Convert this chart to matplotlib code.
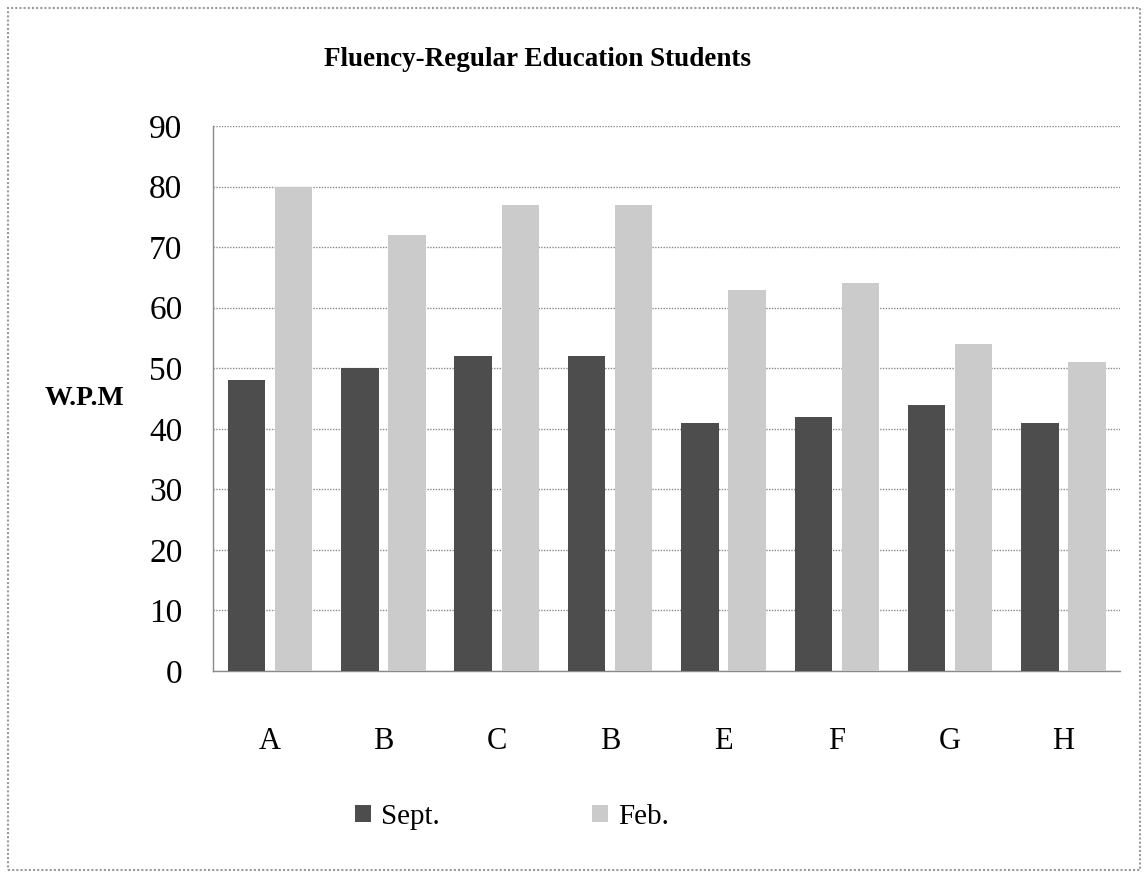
import matplotlib
matplotlib.use("Agg")
import matplotlib.pyplot as plt
import numpy as np
from matplotlib.patches import Rectangle

# Data
STUDENTS = ["A", "B", "C", "B", "E", "F", "G", "H"]
SEPT = [48, 50, 52, 52, 41, 42, 44, 41]
FEB = [80, 72, 77, 77, 63, 64, 54, 51]

SEPT_COLOR = "#4d4d4d"
FEB_COLOR = "#cbcbcb"
GRID_COLOR = "#8a8a8a"

plt.rcParams["font.family"] = ["Liberation Serif", "DejaVu Serif"]

fig = plt.figure(figsize=(11.45, 8.72), dpi=100)
fig.patch.set_facecolor("white")
ax = fig.add_axes([213 / 1145, 1 - 671 / 872, (1120 - 213) / 1145, (671 - 126) / 872])

x = np.arange(len(STUDENTS))
width = 0.33
ax.bar(x - 0.205, SEPT, width, color=SEPT_COLOR, label="Sept.", zorder=3)
ax.bar(x + 0.21, FEB, width, color=FEB_COLOR, label="Feb.", zorder=3)

ax.set_xlim(-0.5, len(STUDENTS) - 0.5)
ax.set_ylim(0, 90)
ax.set_yticks(range(0, 91, 10))
ax.set_xticks(x)
ax.set_xticklabels(STUDENTS)
ax.tick_params(axis="y", length=0, pad=22, labelsize=24)
ax.tick_params(axis="x", length=0, pad=40, labelsize=22)

ax.grid(axis="y", color=GRID_COLOR, linestyle=(0, (1, 1)), linewidth=1.0, zorder=1)
for side in ("top", "right"):
    ax.spines[side].set_visible(False)
for side in ("left", "bottom"):
    ax.spines[side].set_color(GRID_COLOR)
    ax.spines[side].set_linestyle((0, (1, 1)))
    ax.spines[side].set_linewidth(1.0)

ax.set_ylabel("W.P.M", rotation=0, fontsize=20, fontweight="bold",
              ha="center", va="center")
ax.yaxis.set_label_coords(-0.142, 0.5)

fig.text(538 / 1145, 1 - 59 / 872, "Fluency-Regular Education Students",
         fontsize=19.5, fontweight="bold", ha="center", va="center")

leg = fig.legend(loc="center", bbox_to_anchor=(512 / 1145, 1 - 817 / 872),
                 ncol=2, frameon=False, fontsize=21, handlelength=0.55,
                 handleheight=0.55, handletextpad=0.35, columnspacing=5.2)

# outer chart frame
fig.add_artist(Rectangle((8 / 1145, 2 / 872), 1132 / 1145, 862 / 872,
                         transform=fig.transFigure, fill=False,
                         edgecolor="#9a9a9a", linewidth=1.5,
                         linestyle=(0, (1, 1))))

fig.savefig("out.png", dpi=100, facecolor="white")
